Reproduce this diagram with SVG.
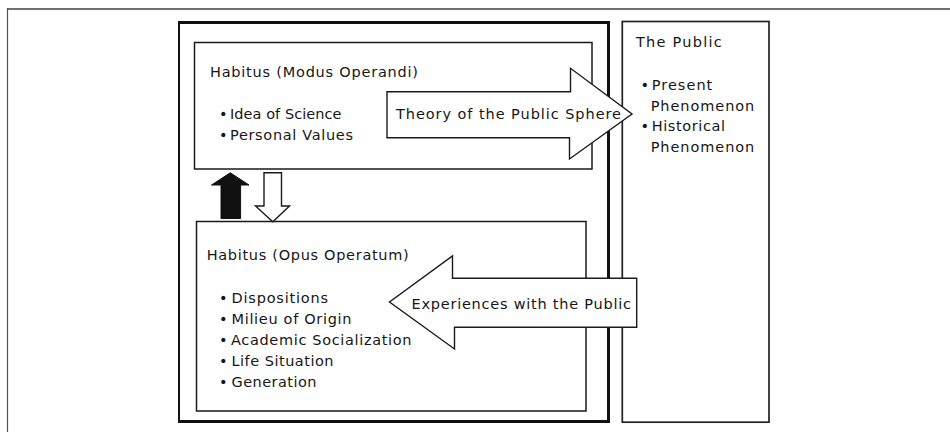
<svg xmlns="http://www.w3.org/2000/svg" width="950" height="432" viewBox="0 0 950 432">
<style>
text{font-family:"DejaVu Sans","Liberation Sans",Arial,sans-serif;font-size:14.5px;fill:#161616}
.box{fill:#fff;stroke:#1a1a1a;stroke-width:1.5}
.arrow{fill:#fff;stroke:#1a1a1a;stroke-width:1.4;stroke-linejoin:miter}
.solid{fill:#111;stroke:#111;stroke-width:1}
</style>
<rect width="950" height="432" fill="#fff"/>
<g id="frame">
<line x1="7" y1="9" x2="950" y2="9" stroke="#707070" stroke-width="2"/>
<line x1="7.5" y1="8" x2="7.5" y2="432" stroke="#505050" stroke-width="1.2"/>
</g>
<g id="habitus-frame">
<rect x="178" y="21" width="432" height="402" fill="#111"/>
<rect x="180" y="24" width="427" height="396" fill="#fff"/>
</g>
<g id="modus-operandi">
<rect class="box" x="194.5" y="42.5" width="397.5" height="126.5"/>
<text x="210" y="76.5" textLength="208" lengthAdjust="spacing">Habitus (Modus Operandi)</text>
<text y="118.5"><tspan x="219">•</tspan><tspan x="230" textLength="111.5" lengthAdjust="spacing">Idea of Science</tspan></text>
<text y="139.5"><tspan x="219">•</tspan><tspan x="230" textLength="123" lengthAdjust="spacing">Personal Values</tspan></text>
</g>
<g id="opus-operatum">
<rect class="box" x="196.5" y="221.5" width="389.5" height="189.5"/>
<text x="206.7" y="259.5" textLength="202" lengthAdjust="spacing">Habitus (Opus Operatum)</text>
<text y="303"><tspan x="219">•</tspan><tspan x="231.5" textLength="96.5" lengthAdjust="spacing">Dispositions</tspan></text>
<text y="323.5"><tspan x="219">•</tspan><tspan x="231.5" textLength="120" lengthAdjust="spacing">Milieu of Origin</tspan></text>
<text y="344.8"><tspan x="219">•</tspan><tspan x="231" textLength="180.5" lengthAdjust="spacing">Academic Socialization</tspan></text>
<text y="365.5"><tspan x="219">•</tspan><tspan x="231.5" textLength="102" lengthAdjust="spacing">Life Situation</tspan></text>
<text y="386.5"><tspan x="219">•</tspan><tspan x="231.5" textLength="85" lengthAdjust="spacing">Generation</tspan></text>
</g>
<g id="the-public">
<rect x="622.3" y="21.5" width="146.7" height="400.7" fill="#fff" stroke="#222" stroke-width="1.7"/>
<text x="636" y="47" textLength="85.7" lengthAdjust="spacing">The Public</text>
<text y="90.3"><tspan x="640.5">•</tspan><tspan x="651.7" textLength="60.6" lengthAdjust="spacing">Present</tspan></text>
<text x="650.7" y="110.8" textLength="103.6" lengthAdjust="spacing">Phenomenon</text>
<text y="131.3"><tspan x="640.5">•</tspan><tspan x="651.7" textLength="73.3" lengthAdjust="spacing">Historical</tspan></text>
<text x="650.7" y="152" textLength="103.6" lengthAdjust="spacing">Phenomenon</text>
</g>
<g id="connectors">
<polygon id="arrow-up" class="solid" points="230.3,172.8 249,185 240.6,185 240.6,218.5 221,218.5 221,185 211.5,185"/>
<polygon id="arrow-down" class="arrow" points="264,172.8 281.5,172.8 281.5,206 289.5,206 272.8,221.7 255.5,206 264,206"/>
<g id="arrow-theory">
<polygon class="arrow" points="387,91.7 570.5,91.7 570.5,68.3 632,114 569.5,159 569.5,137.7 387,137.7"/>
<text x="396" y="118.6" textLength="225" lengthAdjust="spacing">Theory of the Public Sphere</text>
</g>
<g id="arrow-experiences">
<polygon class="arrow" points="636.7,278.3 636.7,327.3 454.5,327.3 454.5,349 389.5,302 452.5,256 452.5,278.3"/>
<text x="411.5" y="308.6" textLength="219.5" lengthAdjust="spacing">Experiences with the Public</text>
</g>
</g>
</svg>
